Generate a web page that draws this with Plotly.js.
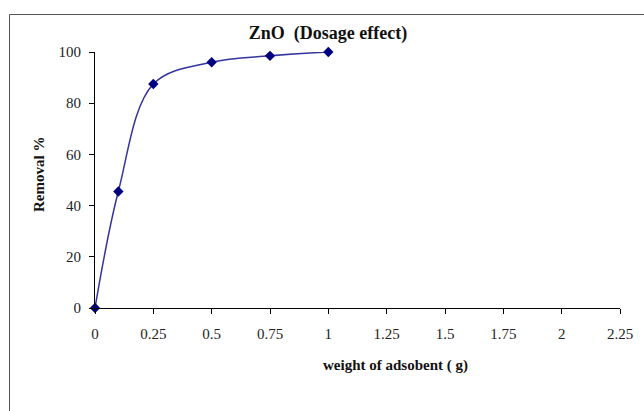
<!DOCTYPE html>
<html>
<head>
<meta charset="utf-8">
<script src="https://cdn.plot.ly/plotly-3.0.1.min.js"></script>
<style>
html,body{margin:0;padding:0;background:#fff;}
#chart{width:644px;height:411px;}
</style>
</head>
<body>
<div id="chart"></div>
<script>
const dosage = [0, 0.1, 0.25, 0.5, 0.75, 1];
const removal = [0, 45.5, 87.5, 96, 98.5, 100];
const xTicks = [0, 0.25, 0.5, 0.75, 1, 1.25, 1.5, 1.75, 2, 2.25];
const xTickLabels = ['0', '0.25', '0.5', '0.75', '1', '1.25', '1.5', '1.75', '2', '2.25'];
const yTicks = [0, 20, 40, 60, 80, 100];

const serif = 'Liberation Serif, Times New Roman, serif';

const W = 644, H = 411;
const m = {l: 95, r: 24, t: 52, b: 103};
const pw = W - m.l - m.r, ph = H - m.t - m.b;
function px(x){ return (x - m.l) / pw; }
function py(y){ return (H - m.b - y) / ph; }

const trace = {
  x: dosage,
  y: removal,
  mode: 'lines+markers',
  type: 'scatter',
  line: {shape: 'spline', smoothing: 1, color: '#3434a0', width: 1.5},
  marker: {symbol: 'diamond', size: 8, color: '#000080'},
  cliponaxis: false,
  hoverinfo: 'x+y'
};

const layout = {
  width: W, height: H,
  margin: m,
  paper_bgcolor: '#fff',
  plot_bgcolor: '#fff',
  showlegend: false,
  font: {family: serif, color: '#222', size: 15},
  title: {text: '<b>ZnO  (Dosage effect)</b>', font: {family: serif, size: 18, color: '#111'}, xref: 'container', x: 328 / W, xanchor: 'center', yref: 'container', y: 1 - 33 / H, yanchor: 'middle'},
  xaxis: {
    range: [0, 2.25],
    tickvals: xTicks, ticktext: xTickLabels,
    showgrid: false, zeroline: false,
    showline: true, linecolor: '#000', linewidth: 1,
    ticks: 'outside', ticklen: 5, tickcolor: '#000',
    ticklabelstandoff: 7,
    tickfont: {family: serif, size: 15, color: '#222'}
  },
  yaxis: {
    range: [0, 100],
    tickvals: yTicks,
    showgrid: false, zeroline: false,
    showline: true, linecolor: '#000', linewidth: 1,
    ticks: 'outside', ticklen: 5, tickcolor: '#000',
    ticklabelstandoff: 5,
    tickfont: {family: serif, size: 15, color: '#222'}
  },
  annotations: [
    {text: '<b>weight of adsobent ( g)</b>', xref: 'paper', yref: 'paper', x: px(395), y: py(365), xanchor: 'center', yanchor: 'middle', showarrow: false, font: {family: serif, size: 15, color: '#111'}},
    {text: '<b>Removal %</b>', xref: 'paper', yref: 'paper', x: px(39), y: py(174), xanchor: 'center', yanchor: 'middle', textangle: -90, showarrow: false, font: {family: serif, size: 15, color: '#111'}}
  ],
  shapes: [
    {type: 'rect', xref: 'paper', yref: 'paper', x0: px(9.5), x1: px(660), y0: py(430), y1: py(14.5), line: {color: '#555', width: 1}, fillcolor: 'rgba(0,0,0,0)', layer: 'below'}
  ]
};

Plotly.newPlot('chart', [trace], layout, {displayModeBar: false, staticPlot: true});
</script>
</body>
</html>
